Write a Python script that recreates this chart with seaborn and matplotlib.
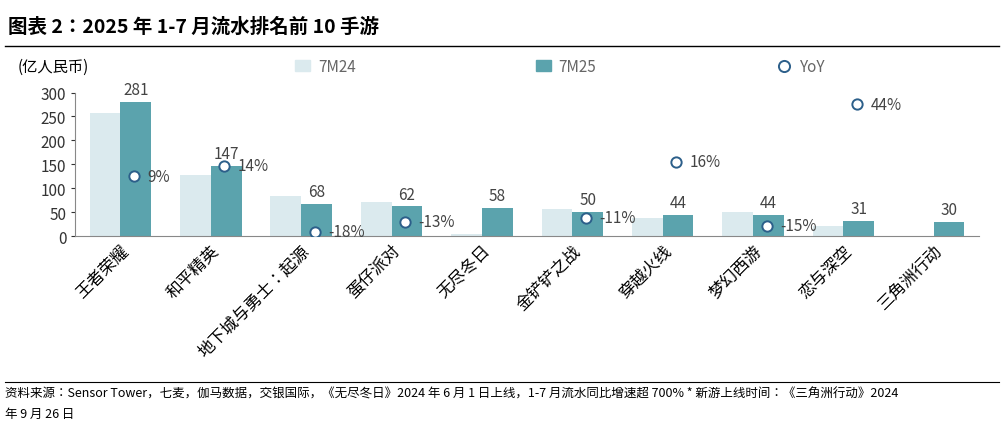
import matplotlib
matplotlib.use("Agg")
import matplotlib.pyplot as plt
import matplotlib.font_manager as fm
import seaborn as sns
import pandas as pd
from matplotlib.lines import Line2D
from matplotlib.patches import Patch

cjk = None
for f in fm.findSystemFonts():
    if "CJK" in f or "cjk" in f.lower():
        try:
            fm.fontManager.addfont(f)
        except Exception:
            pass
        if cjk is None and ("Regular" in f or "CJK" in f):
            cjk = f
names = sorted({e.name for e in fm.fontManager.ttflist if "CJK" in e.name})
fam = names[0] if names else "DejaVu Sans"
for n in names:
    if "SC" in n:
        fam = n
        break
plt.rcParams["font.family"] = [fam, "DejaVu Sans"]

games = ["王者荣耀", "和平精英", "地下城与勇士：起源", "蛋仔派对", "无尽冬日", "金铲铲之战",
         "穿越火线", "梦幻西游", "恋与深空", "三角洲行动"]
m24 = [257, 128, 83, 71, 5, 56, 38, 51, 22, 0]
m25 = [281, 147, 68, 62, 58, 50, 44, 44, 31, 30]
yoy = [9, 14, -18, -13, None, -11, 16, -15, 44, None]
series = ["7M24", "7M25"]
c24, c25 = "#dbeaee", "#5ba3ad"

df = pd.DataFrame({"game": games * 2, "series": [series[0]] * 10 + [series[1]] * 10,
                   "value": m24 + m25})

fig = plt.figure(figsize=(10.04, 4.35), dpi=100)
ax = fig.add_axes([0.075, 0.455, 0.9, 0.33])
sns.barplot(data=df, x="game", y="value", hue="series", palette=[c24, c25],
            width=0.68, gap=0, ax=ax, legend=False, saturation=1)
ax.set_ylim(0, 300)
ax.set_yticks(range(0, 301, 50))
ax.set_xlim(-0.5, 9.5)
ax.set_xlabel(""); ax.set_ylabel("")
for s in ["top", "right"]:
    ax.spines[s].set_visible(False)
ax.spines["left"].set_color("#888888"); ax.spines["bottom"].set_color("#888888")
ax.tick_params(axis="y", labelsize=11, length=3, colors="#333333")
ax.tick_params(axis="x", length=0, pad=4)
ax.set_xticks(range(10))
ax.set_xticklabels(games, rotation=45, ha="right", rotation_mode="anchor", fontsize=12)
for i, v in enumerate(m25):
    ax.text(i + 0.17, v + 8, f"{v}", ha="center", va="bottom", fontsize=11, color="#444444")

ax2 = ax.twinx()
ax2.set_ylim(-20, 49.6)
ax2.axis("off")
xs = [i for i, y in enumerate(yoy) if y is not None]
ys = [y for y in yoy if y is not None]
sns.scatterplot(x=[x + 0.15 for x in xs], y=ys, ax=ax2, s=55, facecolor="white",
                edgecolor="#2c5f8a", linewidth=1.4, zorder=5, legend=False)
for x, y in zip(xs, ys):
    ax2.text(x + 0.3, y, f"{y}%", va="center", ha="left", fontsize=11, color="#444444")
ax2.set_xlim(-0.5, 9.5)

fig.text(0.008, 0.925, "图表 2：2025 年 1-7 月流水排名前 10 手游", fontsize=14, fontweight="bold")
fig.add_artist(Line2D([0.005, 0.995], [0.893, 0.893], color="black", lw=1))
fig.text(0.018, 0.835, "(亿人民币)", fontsize=11)
handles = [Patch(color=c24), Patch(color=c25),
           Line2D([], [], marker="o", ls="", mfc="white", mec="#2c5f8a", mew=1.4, ms=8)]
for h, lab, x in zip(handles, ["7M24", "7M25", "YoY"], [0.28, 0.52, 0.76]):
    fig.legend([h], [lab], loc="center left", bbox_to_anchor=(x, 0.845), frameon=False,
               fontsize=11, handlelength=1, handletextpad=0.5, labelcolor="#666666")
fig.add_artist(Line2D([0.005, 0.995], [0.12, 0.12], color="black", lw=0.8))
fig.text(0.005, 0.085, "资料来源：Sensor Tower，七麦，伽马数据，交银国际，《无尽冬日》2024 年 6 月 1 日上线，1-7 月流水同比增速超 700% * 新游上线时间：《三角洲行动》2024",
         fontsize=9, style="italic")
fig.text(0.005, 0.04, "年 9 月 26 日", fontsize=9, style="italic")
fig.savefig("out.png", dpi=100)
